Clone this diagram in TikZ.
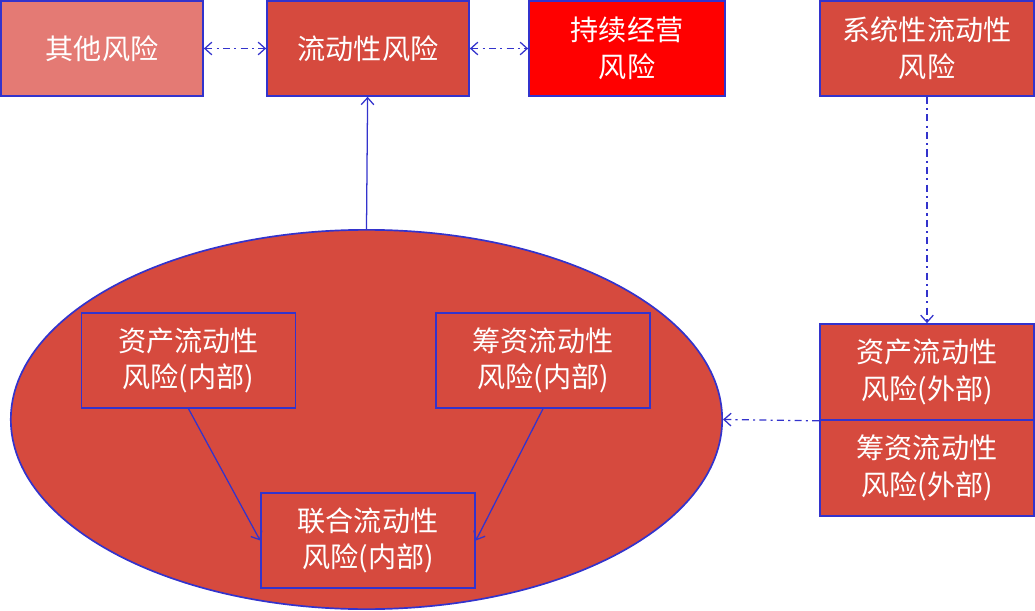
\documentclass[tikz,border=0pt]{standalone}
\usepackage{fontspec}
\usepackage{tikz}
\usetikzlibrary{arrows.meta,shapes.geometric}
\newfontfamily\cjk{Noto Sans CJK SC}
\definecolor{riskred}{RGB}{214,74,62}
\definecolor{riskpink}{RGB}{228,122,116}
\definecolor{riskbright}{RGB}{255,0,0}
\definecolor{lineblue}{RGB}{51,51,204}

\begin{document}
\begin{tikzpicture}
	[x=0.025cm,y=-0.025cm,>={Straight Barb[length=5pt,width=9pt]},
		riskbox/.style={rectangle,draw=lineblue,line width=1.2pt,fill=riskred,text=white,
			font=\cjk\fontsize{20}{26}\selectfont,align=center,
			minimum width=5.35cm,minimum height=2.37cm,inner sep=0pt},
		link/.style={draw=lineblue,line width=0.9pt},
		dashlink/.style={link,dash pattern=on 5pt off 3pt on 1.5pt off 3pt}]

	\useasboundingbox (0,0) rectangle (1035,611);

	\node[ellipse,draw=lineblue,line width=1.2pt,fill=riskred,
		minimum width=17.78cm,minimum height=9.48cm] (ell) at (366.5,419.5) {};

	\node[riskbox,fill=riskpink,minimum width=5.05cm] (other)  at (102,48.5)  {其他风险};
	\node[riskbox,minimum width=5.05cm]               (liq)    at (368,48.5)  {流动性风险};
	\node[riskbox,fill=riskbright,minimum width=4.9cm] (going) at (627,48.5)  {持续经营\\风险};
	\node[riskbox]                    (sys)    at (927,48.5)  {系统性流动性\\风险};

	\node[riskbox] (assetin)  at (188.5,360.5) {资产流动性\\风险(内部)};
	\node[riskbox] (fundin)   at (543,360.5)   {筹资流动性\\风险(内部)};
	\node[riskbox] (joint)    at (368,540.5)   {联合流动性\\风险(内部)};

	\node[riskbox,minimum height=2.4cm] (assetout) at (927,372) {资产流动性\\风险(外部)};
	\node[riskbox,minimum height=2.4cm] (fundout)  at (927,468) {筹资流动性\\风险(外部)};

	\path[dashlink]
	(other) edge [<->] (liq)
	(liq)   edge [<->] (going)
	(sys)   edge [->]  (assetout)
	(assetout.south west) edge [->] (ell.east)
	;

	\path[link]
	(ell.north)     edge [->] (liq)
	(assetin.south) edge [->] (joint.west)
	(fundin.south)  edge [->] (joint.east)
	;

\end{tikzpicture}
\end{document}
